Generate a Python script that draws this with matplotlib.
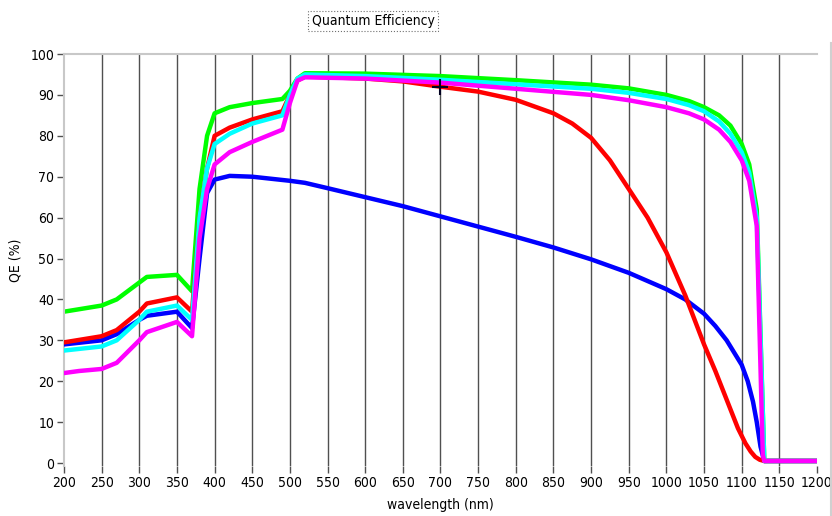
import numpy as np
import matplotlib
matplotlib.use("Agg")
from matplotlib import pyplot as plt
from matplotlib.lines import Line2D

plt.rcParams['font.family'] = ['DejaVu Sans']
plt.rcParams['font.stretch'] = 'condensed'

# green curve
green_x = [200, 250, 270, 310, 350, 370, 380, 390, 400, 420, 450, 490, 500, 510, 520,
           600, 700, 800, 900, 950, 1000, 1030, 1050, 1070, 1085, 1100, 1110, 1120, 1130, 1200]
green_y = [37, 38.5, 40, 45.5, 46, 42, 67, 80, 85.5, 87, 88, 89, 91, 94, 95.3,
           95.2, 94.6, 93.6, 92.5, 91.6, 90, 88.5, 87, 85, 82.5, 78, 73, 62, 0.5, 0.5]

# red curve
red_x = [200, 250, 270, 300, 310, 350, 370, 380, 390, 400, 420, 450, 490, 500, 510, 520,
         600, 650, 700, 750, 800, 850, 875, 900, 925, 950, 975, 1000, 1025, 1050, 1065, 1080,
         1095, 1105, 1112, 1118, 1124, 1130, 1200]
red_y = [29.5, 31, 32.5, 37, 39, 40.5, 37, 60, 72, 80, 82, 84, 86, 90, 93.5, 94.5,
         94, 93.3, 92, 90.8, 88.8, 85.5, 83, 79.5, 74, 67, 60, 51.5, 41, 29, 22.5, 15.5,
         8.5, 4.8, 2.8, 1.5, 0.8, 0.5, 0.5]

# cyan curve
cyan_x = [200, 250, 270, 300, 310, 350, 370, 380, 390, 400, 420, 450, 490, 500, 510, 520,
          600, 700, 800, 900, 950, 1000, 1030, 1050, 1070, 1085, 1100, 1110, 1120, 1130, 1200]
cyan_y = [27.5, 28.5, 30, 35, 37, 38.5, 35, 60, 72, 78, 80.5, 83, 85, 90, 94, 95,
          94.6, 93.7, 92.6, 91.5, 90.5, 89, 87.5, 86, 83.5, 80.5, 76, 71, 60, 0.5, 0.5]

# blue curve
blue_x = [200, 250, 270, 300, 310, 350, 370, 380, 390, 400, 420, 450, 500, 520, 550,
          600, 650, 700, 750, 800, 850, 900, 950, 1000, 1025, 1050, 1065, 1080, 1090, 1100,
          1108, 1115, 1120, 1125, 1130, 1200]
blue_y = [29, 30, 31.5, 35, 36, 37, 33, 50, 66, 69.3, 70.2, 70, 69, 68.5, 67.2,
          65, 62.8, 60.3, 57.8, 55.3, 52.7, 49.8, 46.5, 42.5, 40, 36.5, 33.5, 30, 27, 24,
          20, 15, 10, 4, 0.5, 0.5]

# magenta curve
magenta_x = [200, 220, 250, 270, 300, 310, 350, 370, 380, 390, 400, 420, 450, 490, 500, 510, 520,
             600, 700, 800, 900, 950, 1000, 1030, 1050, 1070, 1085, 1100, 1110, 1120, 1128, 1130, 1200]
magenta_y = [22, 22.5, 23, 24.5, 30, 32, 34.5, 31, 55, 67, 73, 76, 78.5, 81.5, 88, 93.5, 94.3,
             94, 93, 91.5, 90, 88.7, 87, 85.5, 84, 81.5, 78.5, 74, 69, 58, 2, 0.5, 0.5]

cursor_x, cursor_y = 700, 92

xticks = np.arange(200, 1201, 50)
yticks = np.arange(0, 101, 10)

fig = plt.figure(figsize=(8.32, 5.16), dpi=100)
ax = fig.add_axes([64 / 832, 1 - 466.3 / 516, (817 - 64) / 832, (466.3 - 54) / 516])

for xv in xticks[1:-1]:
    ax.axvline(xv, color='#505050', lw=1.0, zorder=1)

lw = 3.2
ax.plot(blue_x, blue_y, color='#0000ff', lw=lw, zorder=3)
ax.plot(red_x, red_y, color='#ff0000', lw=lw, zorder=4)
ax.plot(green_x, green_y, color='#00ff00', lw=lw, zorder=2)
ax.plot(cyan_x, cyan_y, color='#00ffff', lw=lw, zorder=5)
ax.plot(magenta_x, magenta_y, color='#ff00ff', lw=lw, zorder=6)
ax.plot([cursor_x], [cursor_y], marker='+', color='#000020', ms=12, mew=1.5, zorder=7)

ax.set_xlim(200, 1200)
ax.set_ylim(-0.8, 100)
ax.set_xticks(xticks)
ax.set_yticks(yticks)
ax.tick_params(axis='both', labelsize=10, color='#505050', length=5, width=1, pad=2)

for side in ['right', 'bottom']:
    ax.spines[side].set_visible(False)
for side in ['left', 'top']:
    ax.spines[side].set_color('#c8c8c8')
    ax.spines[side].set_linewidth(1.5)

ax.set_xlabel("wavelength (nm)", fontsize=10, labelpad=6)
ax.set_ylabel("QE (%)", fontsize=10, labelpad=6)

fig.text(373 / 832, 1 - 21 / 516, "Quantum Efficiency", ha='center', va='center', fontsize=10,
         bbox=dict(boxstyle='square,pad=0.25', fc='white', ec='#707070', ls=':', lw=0.8))

fig.add_artist(Line2D([831 / 832, 831 / 832], [0, 1 - 43 / 516], transform=fig.transFigure,
                      color='#d0d0d0', lw=1.5))

fig.savefig("out.png", dpi=100)
